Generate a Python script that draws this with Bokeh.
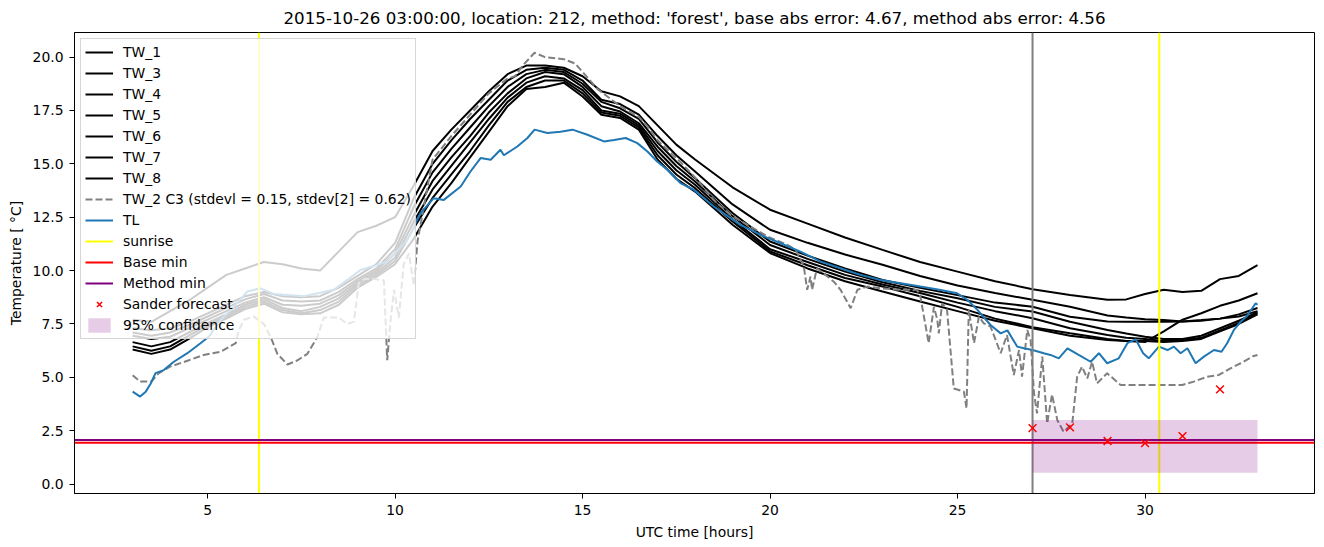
from bokeh.plotting import figure
from bokeh.models import Range1d, SingleIntervalTicker, NumeralTickFormatter
from bokeh.embed import file_html
from bokeh.resources import INLINE

TITLE = ("2015-10-26 03:00:00, location: 212, method: 'forest', "
         "base abs error: 4.67, method abs error: 4.56")

# ---- data -----------------------------------------------------------------
T_BLACK = [3, 3.5, 4, 4.5, 5, 5.5, 6, 6.5, 7, 7.5, 8, 8.5, 9, 9.5, 10, 10.5, 11,
           11.5, 12, 12.5, 13, 13.5, 14, 14.5, 15, 15.5, 16, 16.5, 17, 17.5, 18,
           19, 20, 21, 22, 23, 24, 25, 26, 27, 28, 29, 29.5, 30, 30.5, 31, 31.5,
           32, 32.5, 33]

TW_1 = [7.7, 7.6, 8.1, 8.6, 9.2, 9.8, 10.1, 10.4, 10.3, 10.1, 10.0, 10.9, 11.8, 12.1,
        12.5, 14.0, 15.6, 16.6, 17.5, 18.4, 19.2, 19.6, 19.6, 19.5, 19.1, 18.4, 18.16,
        17.7, 16.8, 15.9, 15.2, 13.9, 12.85, 12.2, 11.55, 10.97, 10.4, 9.95, 9.5, 9.13,
        8.86, 8.63, 8.65, 8.9, 9.1, 9.0, 9.05, 9.6, 9.75, 10.25]
TW_3 = [7.3, 7.2, 7.3, 7.6, 8.0, 8.4, 8.8, 9.0, 8.8, 8.75, 8.8, 9.2, 9.75, 10.3,
        11.3, 13.4, 15.0, 16.1, 17.1, 18.0, 18.9, 19.4, 19.5, 19.4, 18.9, 18.0, 17.8,
        17.3, 16.3, 15.4, 14.64, 13.1, 11.91, 11.3, 10.75, 10.27, 9.75, 9.3, 8.95, 8.63,
        8.31, 7.9, 7.8, 7.72, 7.68, 7.62, 7.65, 7.75, 7.95, 8.25]
TW_4 = [7.1, 6.95, 7.1, 7.45, 7.85, 8.25, 8.65, 8.9, 8.6, 8.55, 8.6, 9.0, 9.6, 10.1,
        11.0, 13.0, 14.6, 15.7, 16.7, 17.7, 18.6, 19.2, 19.4, 19.3, 18.75, 17.9, 17.6,
        17.1, 16.0, 15.1, 14.33, 12.7, 11.36, 10.7, 10.1, 9.56, 9.2, 8.85, 8.5, 8.31,
        7.84, 7.62, 7.6, 7.6, 7.6, 7.62, 7.68, 7.75, 7.85, 8.1]
TW_5 = [6.95, 6.8, 6.9, 7.3, 7.7, 8.1, 8.5, 8.75, 8.4, 8.35, 8.45, 8.85, 9.5, 10.0,
        10.8, 12.6, 14.2, 15.3, 16.3, 17.4, 18.3, 19.0, 19.3, 19.2, 18.6, 17.7, 17.45,
        16.9, 15.8, 14.9, 14.17, 12.55, 11.2, 10.55, 9.95, 9.45, 9.05, 8.7, 8.3, 8.08,
        7.6, 7.22, 7.05, 6.9, 6.8, 6.8, 6.95, 7.3, 7.65, 8.05]
TW_6 = [6.65, 6.45, 6.65, 7.1, 7.55, 7.95, 8.4, 8.65, 8.25, 8.1, 8.3, 8.7, 9.4, 9.9,
        10.6, 12.3, 13.8, 14.9, 16.0, 17.1, 18.1, 18.8, 19.1, 19.0, 18.45, 17.5, 17.35,
        16.8, 15.6, 14.7, 14.02, 12.4, 11.0, 10.4, 9.8, 9.35, 8.95, 8.5, 8.1, 7.77,
        7.3, 6.98, 6.85, 6.8, 6.7, 6.75, 6.85, 7.2, 7.55, 8.0]
TW_7 = [6.45, 6.25, 6.45, 6.95, 7.45, 7.85, 8.3, 8.55, 8.15, 8.0, 8.15, 8.55, 9.3, 9.8,
        10.45, 12.0, 13.4, 14.5, 15.6, 16.8, 17.9, 18.6, 18.9, 18.9, 18.3, 17.4, 17.25,
        16.7, 15.4, 14.5, 13.86, 12.3, 10.9, 10.25, 9.65, 9.25, 8.8, 8.3, 7.75, 7.35,
        7.06, 6.8, 6.7, 6.65, 7.15, 7.7, 8.0, 8.35, 8.6, 8.94]
TW_8 = [6.3, 6.1, 6.3, 6.8, 7.35, 7.75, 8.2, 8.45, 8.05, 7.95, 8.0, 8.4, 9.2, 9.7,
        10.3, 11.5, 13.0, 14.1, 15.3, 16.5, 17.7, 18.5, 18.6, 18.8, 18.15, 17.3, 17.15,
        16.6, 15.2, 14.3, 13.7, 12.15, 10.82, 10.1, 9.5, 9.02, 8.55, 8.1, 7.65, 7.3,
        6.95, 6.75, 6.7, 6.7, 6.65, 6.7, 6.8, 7.15, 7.5, 7.95]

BLACK_NAMES = ["TW_1", "TW_3", "TW_4", "TW_5", "TW_6", "TW_7", "TW_8"]
BLACK_SERIES = [TW_1, TW_3, TW_4, TW_5, TW_6, TW_7, TW_8]

TW2_T = [3.0, 3.2, 3.5, 3.7, 4.0, 4.5, 4.9, 5.35, 5.75, 5.83, 5.97, 6.23, 6.5, 6.68,
         6.86, 7.13, 7.4, 7.66, 7.93, 8.1, 8.5, 8.73, 8.9, 9.03, 9.17, 9.44, 9.7,
         9.79, 9.87, 9.97, 10.1, 10.23, 10.37, 10.5, 10.6, 11.0, 11.5, 12.0, 12.5,
         13.0, 13.2, 13.4, 13.72, 14.0, 14.5, 14.8, 15.0, 15.4, 16.0, 16.5, 16.73,
         17.0, 17.6, 18.06, 18.5, 18.95, 19.4, 19.93, 20.46, 20.68, 20.9, 20.99,
         21.08, 21.12, 21.25, 21.42, 21.7, 21.88, 22.15, 22.33, 22.59, 22.95, 23.48,
         23.92, 24.01, 24.23, 24.37, 24.46, 24.5, 24.59, 24.72, 24.9, 25.17, 25.24,
         25.3, 25.44, 25.57, 25.7, 25.88, 26.15, 26.32, 26.5, 26.64, 26.72, 26.86,
         26.95, 27.04, 27.12, 27.26, 27.39, 27.52, 27.66, 27.83, 28.06, 28.19, 28.32,
         28.46, 28.59, 28.72, 28.99, 29.35, 29.7, 30.41, 30.99, 31.3, 31.66, 31.97,
         32.28, 32.55, 32.9, 33.0]
TW2_V = [5.1, 4.8, 4.8, 5.2, 5.5, 5.8, 6.05, 6.2, 6.6, 7.2, 7.7, 7.85, 7.5, 6.9,
         6.1, 5.6, 5.8, 6.1, 6.9, 7.8, 7.8, 7.5, 7.6, 9.4, 9.6, 9.6, 9.55,
         5.8, 7.5, 9.1, 7.8, 10.3, 10.8, 9.3, 11.4, 15.2, 16.3, 17.3, 18.3,
         19.0, 19.1, 19.6, 20.2, 20.0, 19.9, 19.7, 19.3, 18.5, 17.7, 17.2, 16.75,
         16.1, 15.1, 14.25, 13.3, 12.6, 12.14, 11.6, 11.2, 10.98, 10.2, 9.1,
         9.72, 9.1, 10.1, 9.88, 9.48, 9.1, 8.24, 9.1, 9.25, 9.17, 9.1,
         9.1, 8.78, 6.6, 8.3, 7.7, 7.06, 8.47, 8.16, 4.48, 4.33, 3.55,
         8.16, 6.6, 7.84, 7.53, 7.38, 6.13, 6.98, 5.11, 6.28, 5.03, 7.22,
         6.72, 4.25, 3.31, 5.97, 2.84, 4.2, 3.0, 2.45, 2.84, 5.03, 5.5,
         4.95, 5.73, 4.72, 5.19, 4.64, 4.64, 4.64, 4.64, 4.8, 5.03, 5.11,
         5.42, 5.66, 6.0, 6.05]
TW2_LABEL = "TW_2 C3 (stdevl = 0.15, stdev[2] = 0.62)"

TL_T = [3.0, 3.2, 3.35, 3.48, 3.61, 3.83, 4.1, 4.46, 4.81, 5.03, 5.35, 5.7, 6.06,
        6.41, 6.77, 7.57, 8.37, 9.08, 9.79, 10.33, 10.59, 10.68, 11.03, 11.3, 11.75,
        12.01, 12.28, 12.55, 12.81, 12.9, 13.26, 13.53, 13.72, 14.06, 14.41, 14.73,
        15.13, 15.57, 15.84, 16.15, 16.46, 16.73, 16.99, 17.26, 17.61, 17.97, 18.5,
        19.21, 19.75, 20.28, 20.81, 21.35, 21.88, 22.41, 22.95, 23.48, 24.01, 24.55,
        24.99, 25.26, 25.53, 25.88, 26.15, 26.33, 26.59, 26.77, 27.0, 27.3, 27.48,
        27.7, 27.93, 28.23, 28.55, 28.77, 28.99, 29.3, 29.53, 29.75, 29.95, 30.1,
        30.37, 30.6, 30.77, 30.95, 31.13, 31.35, 31.57, 31.84, 32.04, 32.19, 32.37,
        32.55, 32.73, 32.95, 33.0]
TL_V = [4.33, 4.1, 4.33, 4.7, 5.2, 5.34, 5.73, 6.13, 6.6, 6.9, 7.69, 8.31, 9.02,
        9.17, 8.9, 8.8, 9.1, 10.03, 10.42, 11.44, 12.38, 12.69, 13.39, 13.31, 13.94,
        14.64, 15.27, 15.19, 15.66, 15.4, 15.81, 16.21, 16.6, 16.44, 16.5, 16.6,
        16.36, 16.05, 16.12, 16.21, 15.97, 15.58, 15.11, 14.72, 14.1, 13.78, 13.0,
        12.14, 11.67, 11.28, 10.89, 10.42, 10.11, 9.8, 9.56, 9.41, 9.25, 9.09,
        8.94, 8.63, 8.16, 7.45, 7.06, 7.2, 6.44, 6.36, 6.28, 6.13, 6.05,
        5.89, 6.36, 6.05, 5.73, 6.13, 5.66, 5.89, 6.6, 6.78, 6.13, 5.89,
        6.44, 6.28, 6.44, 6.13, 6.36, 5.66, 5.97, 6.28, 6.2, 6.6, 7.22,
        7.6, 7.9, 8.47, 8.4]

SUNRISE = [6.37, 30.38]
NOW = [27.0]
BASE_MIN = [1.94]
METHOD_MIN = [2.06]
SANDER_T = [27, 28, 29, 30, 31, 32]
SANDER_V = [2.62, 2.66, 2.02, 1.92, 2.25, 4.44]
CONF_T = [27.0, 33.0]
CONF_LO = [0.53, 0.53]
CONF_HI = [3.0, 3.0]

X_LIM = (1.45, 34.52)
Y_LIM = (-0.44, 21.15)

FONT = "DejaVu Sans"
FS = "13.9px"

# ---- figure ---------------------------------------------------------------
p = figure(width=1316, height=547, output_backend="svg", toolbar_location=None,
           x_range=Range1d(*X_LIM), y_range=Range1d(*Y_LIM),
           min_border_left=74, min_border_right=2, min_border_top=0,
           min_border_bottom=54, title=TITLE)
p.background_fill_color = "white"
p.border_fill_color = "white"
p.xgrid.visible = False
p.ygrid.visible = False
p.outline_line_color = "black"
p.outline_line_width = 1
p.outline_line_alpha = 1

p.title.text_font = FONT
p.title.text_font_size = "16.7px"
p.title.text_font_style = "normal"
p.title.align = "center"
p.title.text_color = "black"

for name, ser in zip(BLACK_NAMES, BLACK_SERIES):
    p.line(T_BLACK, ser, line_color="black", line_width=2, legend_label=name)

p.line(TW2_T, TW2_V, line_color="gray", line_width=2, line_dash="7 3",
       legend_label=TW2_LABEL)
p.line(TL_T, TL_V, line_color="#1f77b4", line_width=2, legend_label="TL")

# full-height / full-width reference lines spanning the axes limits
n_s = len(SUNRISE)
p.segment(x0=SUNRISE, x1=SUNRISE, y0=[Y_LIM[0]] * n_s, y1=[Y_LIM[1]] * n_s,
          line_color="yellow", line_width=2, legend_label="sunrise")
p.segment(x0=NOW, x1=NOW, y0=[Y_LIM[0]], y1=[Y_LIM[1]],
          line_color="gray", line_width=2)
p.segment(x0=[X_LIM[0]], x1=[X_LIM[1]], y0=BASE_MIN, y1=BASE_MIN,
          line_color="red", line_width=2, legend_label="Base min")
p.segment(x0=[X_LIM[0]], x1=[X_LIM[1]], y0=METHOD_MIN, y1=METHOD_MIN,
          line_color="purple", line_width=2, legend_label="Method min")

p.varea(x=CONF_T, y1=CONF_LO, y2=CONF_HI, fill_color="purple", fill_alpha=0.2,
        legend_label="95% confidence")
p.scatter(SANDER_T, SANDER_V, marker="x", size=11, line_color="red", line_width=1.5,
          legend_label="Sander forecast")

leg = p.legend[0]
order = BLACK_NAMES + [TW2_LABEL, "TL", "sunrise", "Base min", "Method min",
                       "Sander forecast", "95% confidence"]
by_label = {it.label.value: it for it in leg.items}
leg.items = [by_label[k] for k in order]

leg.location = "top_left"
leg.margin = 6
leg.padding = 4
leg.spacing = 3
leg.glyph_width = 28
leg.glyph_height = 18
leg.label_height = 18
leg.label_standoff = 10
leg.label_text_font = FONT
leg.label_text_font_size = FS
leg.label_text_color = "black"
leg.background_fill_color = "white"
leg.background_fill_alpha = 0.8
leg.border_line_color = "#cccccc"
leg.border_line_width = 1
leg.border_line_alpha = 0.8

# axes
p.xaxis.ticker = SingleIntervalTicker(interval=5)
p.yaxis.ticker = SingleIntervalTicker(interval=2.5)
p.yaxis.formatter = NumeralTickFormatter(format="0.0")
p.xaxis.axis_label = "UTC time [hours]"
p.yaxis.axis_label = "Temperature [ °C]"
for ax in (p.xaxis, p.yaxis):
    ax.axis_label_text_font = FONT
    ax.axis_label_text_font_size = FS
    ax.axis_label_text_font_style = "normal"
    ax.axis_label_text_color = "black"
    ax.major_label_text_font = FONT
    ax.major_label_text_font_size = FS
    ax.major_label_text_color = "black"
    ax.major_tick_out = 5
    ax.major_tick_in = 0
    ax.major_tick_line_color = "black"
    ax.minor_tick_line_color = None
    ax.axis_line_color = "black"
    ax.major_label_standoff = 6
    ax.axis_label_standoff = 6

open("out.html", "w").write(file_html(p, INLINE))
